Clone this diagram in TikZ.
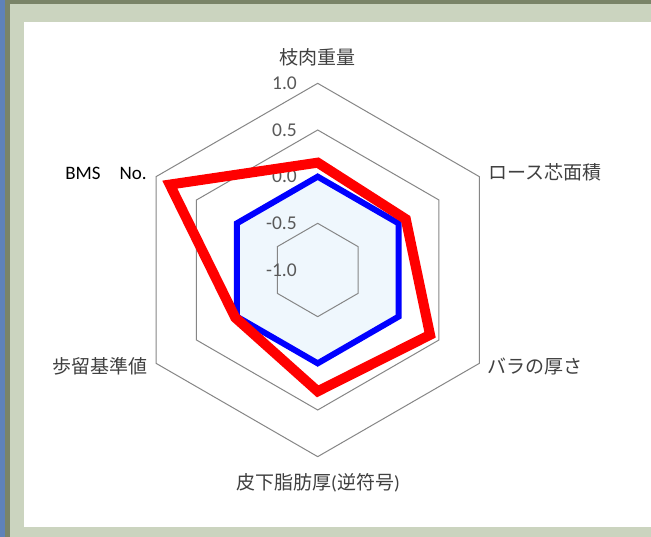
\documentclass[tikz,border=0pt]{standalone}
\usepackage{fontspec}
\setmainfont{Carlito}
\newfontfamily\jp{Noto Sans CJK JP}
\definecolor{framelight}{RGB}{203,212,191}
\definecolor{framedark}{RGB}{122,132,104}
\definecolor{frameblue}{RGB}{95,130,185}
\definecolor{gridgray}{RGB}{134,134,134}
\definecolor{labgray}{RGB}{64,64,64}
\definecolor{tickgray}{RGB}{89,89,89}
\definecolor{bluefill}{RGB}{239,247,253}
\begin{document}
\begin{tikzpicture}[x=1pt,y=1pt,
  gridline/.style={draw=gridgray,line width=1pt},
  lab/.style={font=\jp\fontsize{19}{22}\selectfont,text=labgray,inner sep=0pt},
  tick/.style={font=\fontsize{19.5}{22}\selectfont,text=tickgray,inner sep=0pt,anchor=east},
  serblue/.style={draw={rgb,255:red,0;green,0;blue,255},line width=6pt,line join=miter},
  serred/.style={draw={rgb,255:red,255;green,0;blue,0},line width=10pt,line join=miter,miter limit=20}]
\useasboundingbox (0,0) rectangle (651,537);
% frame
\fill[framelight] (0,0) rectangle (651,537);
\fill[framedark] (5,0) rectangle (10,537);
\fill[framedark] (5,532.7) rectangle (651,537);
\fill[frameblue] (0,0) rectangle (5,537);
\fill[white] (24,10) rectangle (651,515);
\begin{scope}[shift={(317.7,267)}]
  % blue series fill
  \fill[bluefill] (90:93.33) -- (30:93.33) -- (-30:93.33) -- (-90:93.33) -- (210:93.33) -- (150:93.33) -- cycle;
  % grid
  \foreach \r in {186.67,140,93.33,46.67}{
    \draw[gridline] (90:\r) -- (30:\r) -- (-30:\r) -- (-90:\r) -- (210:\r) -- (150:\r) -- cycle;
  }
  % tick labels
  \node[tick] (t10) at (-20.7,186.67) {1.0};
  \node[tick] (t05) at (-20.7,140) {0.5};
  \node[tick] (t00) at (-20.7,93.33) {0.0};
  \node[tick] (tm05) at (-20.7,46.67) {-0.5};
  \node[tick] (tm10) at (-20.7,0) {-1.0};
  % series
  \draw[serblue] (90:93.33) -- (30:93.33) -- (-30:93.33) -- (-90:93.33) -- (210:93.33) -- (150:93.33) -- cycle;
  \draw[serred] (90:{93.33*1.15}) -- (30:{93.33*1.09}) -- (-30:{93.33*1.39}) -- (-90:{93.33*1.30}) -- (210:{93.33*1.02}) -- (150:{93.33*1.83}) -- cycle;
\end{scope}
% axis labels
\node[lab] (a1) at (317,480) {枝肉重量};
\node[lab,anchor=west] (a2) at (488,365) {ロース芯面積};
\node[lab,anchor=west] (a3) at (487,171) {バラの厚さ};
\node[lab] (a4) at (318,54) {皮下脂肪厚{\rmfamily(}逆符号{\rmfamily)}};
\node[lab,anchor=east] (a5) at (148,171) {歩留基準値};
\node[inner sep=0pt,anchor=east,text=black,font=\fontsize{19}{22}\selectfont] (a6) at (147,364) {BMS\hspace{19pt}No.};
\end{tikzpicture}
\end{document}
